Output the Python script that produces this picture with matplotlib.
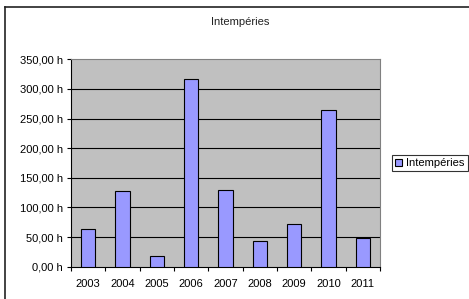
import matplotlib
matplotlib.use("Agg")
import matplotlib.pyplot as plt
from matplotlib.lines import Line2D
import numpy as np

years = ["2003", "2004", "2005", "2006", "2007", "2008", "2009", "2010", "2011"]
hours = [63, 127.7, 18, 316.8, 129.4, 43.3, 71.5, 264, 47.8]
title = "Intempéries"
series_name = "Intempéries"
yticks = [0, 50, 100, 150, 200, 250, 300, 350]

plt.rcParams['font.family'] = ['Liberation Sans', 'DejaVu Sans']
W, H = 469, 299
fig = plt.figure(figsize=(W/100, H/100), dpi=100)
fig.patch.set_facecolor('white')

# outer chart frame (only top and left edges visible)
fx, fy = 5/W, 1 - 6.5/H
fig.add_artist(Line2D([fx, 1.0], [fy, fy], transform=fig.transFigure, color='#222222', linewidth=1.2))
fig.add_artist(Line2D([fx, fx], [fy, 0.0], transform=fig.transFigure, color='#222222', linewidth=1.2))

left, right, top, bottom = 71, 380, 59.3, 266.7
ax = fig.add_axes([left/W, 1 - bottom/H, (right-left)/W, (bottom-top)/H])
ax.set_facecolor('#C0C0C0')

x = np.arange(len(years))
ax.bar(x, hours, width=0.42, color='#9999FF', edgecolor='black', linewidth=0.8, zorder=3,
       label=series_name)

ax.set_xlim(-0.5, len(years) - 0.5)
ax.set_ylim(0, 350)
ax.set_yticks(yticks)
ax.set_yticklabels([f"{v:.2f}".replace('.', ',') + " h" for v in yticks], fontsize=8)
for v in yticks[1:-1]:
    ax.axhline(v, color='black', linewidth=0.8, zorder=1)

ax.set_xticks(np.arange(-0.5, len(years), 1.0))
ax.set_xticklabels([])
ax.set_xticks(x, minor=True)
ax.set_xticklabels(years, minor=True, fontsize=8)
ax.tick_params(axis='x', which='minor', length=0, pad=9)
ax.tick_params(axis='x', which='major', length=3, width=0.8, direction='out', color='black')
ax.tick_params(axis='y', length=3, width=0.8, direction='out', pad=3, color='black')

for s in ['top', 'right']:
    ax.spines[s].set_color('#808080')
    ax.spines[s].set_linewidth(0.8)
for s in ['left', 'bottom']:
    ax.spines[s].set_color('black')
    ax.spines[s].set_linewidth(0.8)

fig.text(240/W, 1 - 22/H, title, ha='center', va='center', fontsize=8, color='#222222')

leg = fig.legend(loc='center left', bbox_to_anchor=(391.5/W, 1 - 163/H), fontsize=8,
                 frameon=True, fancybox=False, edgecolor='black', handlelength=0.6,
                 handleheight=0.6, handletextpad=0.4, borderpad=0.3, borderaxespad=0)
leg.get_frame().set_linewidth(0.8)

fig.savefig("out.png", dpi=100)
